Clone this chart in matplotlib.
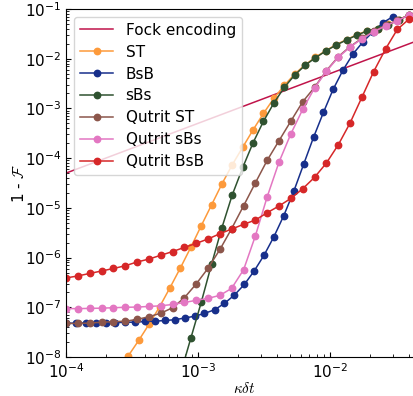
import matplotlib
matplotlib.use("Agg")
import matplotlib.pyplot as plt

plt.rcParams["mathtext.fontset"] = "cm"
plt.rcParams["font.size"] = 11

# kappa*dt grids
x_qutrit = [1.00e-4, 1.23e-4, 1.51e-4, 1.86e-4, 2.29e-4, 2.81e-4, 3.45e-4, 4.25e-4,
            5.22e-4, 6.42e-4, 7.89e-4, 9.71e-4, 1.19e-3, 1.47e-3, 1.80e-3, 2.22e-3,
            2.73e-3, 3.35e-3, 4.12e-3, 5.07e-3, 6.23e-3, 7.66e-3, 9.42e-3, 1.16e-2,
            1.42e-2, 1.75e-2, 2.15e-2, 2.65e-2, 3.25e-2, 4.00e-2]
x_st = [2.48e-4, 2.97e-4, 3.56e-4, 4.27e-4, 5.12e-4, 6.14e-4, 7.36e-4, 8.83e-4,
        1.06e-3, 1.27e-3, 1.52e-3, 1.82e-3, 2.19e-3, 2.62e-3, 3.14e-3, 3.77e-3,
        4.52e-3, 5.42e-3, 6.50e-3, 7.79e-3, 9.34e-3, 1.12e-2, 1.34e-2, 1.61e-2,
        1.93e-2, 2.32e-2, 2.78e-2, 3.33e-2, 4.00e-2]
x_sbs = [7.36e-4, 8.83e-4, 1.06e-3, 1.27e-3, 1.52e-3, 1.82e-3, 2.19e-3, 2.62e-3,
         3.14e-3, 3.77e-3, 4.52e-3, 5.42e-3, 6.50e-3, 7.79e-3, 9.34e-3, 1.12e-2,
         1.34e-2, 1.61e-2, 1.93e-2, 2.32e-2, 2.78e-2, 3.33e-2, 4.00e-2]
x_bsb = [1.00e-4, 1.19e-4, 1.41e-4, 1.68e-4, 2.00e-4, 2.37e-4, 2.82e-4, 3.35e-4,
         3.99e-4, 4.74e-4, 5.63e-4, 6.70e-4, 7.96e-4, 9.46e-4, 1.12e-3, 1.34e-3,
         1.59e-3, 1.89e-3, 2.25e-3, 2.67e-3, 3.17e-3, 3.77e-3, 4.48e-3, 5.33e-3,
         6.33e-3, 7.53e-3, 8.95e-3, 1.06e-2, 1.26e-2, 1.50e-2, 1.79e-2, 2.12e-2,
         2.53e-2, 3.00e-2]
x_fock = [1e-4, 1e-3, 1e-2, 5e-2]

# infidelity 1 - F
fock = [5.0e-5, 5.0e-4, 5.0e-3, 2.5e-2]
st = [5.1e-9, 1.06e-8, 2.16e-8, 4.59e-8, 1.02e-7, 2.47e-7, 6.17e-7, 1.60e-6,
      4.37e-6, 1.15e-5, 3.02e-5, 7.33e-5, 1.67e-4, 3.70e-4, 7.94e-4, 1.60e-3,
      2.92e-3, 4.90e-3, 7.59e-3, 1.07e-2, 1.46e-2, 1.93e-2, 2.43e-2, 3.05e-2,
      3.67e-2, 3.98e-2, 4.90e-2, 6.10e-2, 7.67e-2]
bsb = [4.79e-8, 4.79e-8, 4.84e-8, 4.84e-8, 4.90e-8, 4.90e-8, 5.01e-8, 5.01e-8,
       5.19e-8, 5.25e-8, 5.43e-8, 5.62e-8, 6.10e-8, 6.61e-8, 7.53e-8, 8.91e-8,
       1.20e-7, 1.76e-7, 2.88e-7, 5.37e-7, 1.11e-6, 2.63e-6, 7.00e-6, 2.15e-5,
       7.50e-5, 2.63e-4, 8.32e-4, 2.42e-3, 5.93e-3, 1.25e-2, 2.20e-2, 3.47e-2,
       5.30e-2, 7.00e-2]
sbs = [4.47e-9, 2.37e-8, 1.26e-7, 7.41e-7, 3.98e-6, 1.81e-5, 6.53e-5, 2.04e-4,
       5.50e-4, 1.29e-3, 2.65e-3, 4.70e-3, 7.36e-3, 1.05e-2, 1.43e-2, 1.89e-2,
       2.38e-2, 3.00e-2, 3.61e-2, 3.89e-2, 4.79e-2, 6.03e-2, 7.59e-2]
q_st = [4.73e-8, 4.73e-8, 4.81e-8, 5.01e-8, 5.13e-8, 5.25e-8, 5.69e-8, 6.46e-8,
        7.59e-8, 9.77e-8, 1.55e-7, 2.95e-7, 6.03e-7, 1.46e-6, 3.80e-6, 1.10e-5,
        3.20e-5, 9.02e-5, 2.24e-4, 5.57e-4, 1.36e-3, 2.66e-3, 5.75e-3, 1.10e-2,
        1.74e-2, 2.57e-2, 3.55e-2, 4.68e-2, 5.89e-2, 7.59e-2]
q_sbs = [9.4e-8, 9.4e-8, 9.5e-8, 9.6e-8, 9.8e-8, 1.00e-7, 1.01e-7, 1.04e-7,
         1.07e-7, 1.14e-7, 1.25e-7, 1.38e-7, 1.51e-7, 1.74e-7, 2.40e-7, 5.69e-7,
         2.75e-6, 1.66e-5, 8.32e-5, 3.09e-4, 9.55e-4, 2.57e-3, 5.62e-3, 1.07e-2,
         1.70e-2, 2.51e-2, 3.49e-2, 4.57e-2, 5.82e-2, 7.59e-2]
q_bsb = [3.89e-7, 4.27e-7, 4.79e-7, 5.37e-7, 6.03e-7, 6.84e-7, 8.13e-7, 9.33e-7,
         1.11e-6, 1.32e-6, 1.60e-6, 1.93e-6, 2.36e-6, 3.02e-6, 3.74e-6, 4.66e-6,
         5.69e-6, 7.98e-6, 1.09e-5, 1.55e-5, 2.42e-5, 4.11e-5, 7.96e-5, 1.86e-4,
         5.01e-4, 1.67e-3, 5.50e-3, 1.58e-2, 3.89e-2, 6.31e-2]

fig = plt.figure(figsize=(4.14, 3.96), dpi=100)
# right edge of the axes runs past the figure, as in the cropped original
ax = fig.add_axes([66 / 414, 39 / 396, 356 / 414, 348 / 396])

mk = dict(marker="o", ms=4.6, lw=1.1)
ax.plot(x_fock, fock, color="#c0144a", lw=1.1, label="Fock encoding")
ax.plot(x_st, st, color="#fd9a3b", label="ST", **mk)
ax.plot(x_bsb, bsb, color="#172f8b", label="BsB", **mk)
ax.plot(x_sbs, sbs, color="#2f5230", label="sBs", **mk)
ax.plot(x_qutrit, q_st, color="#8c564b", label="Qutrit ST", **mk)
ax.plot(x_qutrit, q_sbs, color="#e377c2", label="Qutrit sBs", **mk)
ax.plot(x_qutrit, q_bsb, color="#d62728", label="Qutrit BsB", **mk)

ax.set_xscale("log")
ax.set_yscale("log")
ax.set_xlim(1e-4, 5e-2)
ax.set_ylim(1e-8, 1e-1)
ax.tick_params(which="both", direction="in")
ax.set_xlabel(r"$\kappa\delta t$", labelpad=0)
ax.set_ylabel(r"1 - $\mathcal{F}$", labelpad=-2)
ax.legend(loc="upper left", fontsize=11, handlelength=2.2, labelspacing=0.45)

fig.savefig("out.png", dpi=100)
